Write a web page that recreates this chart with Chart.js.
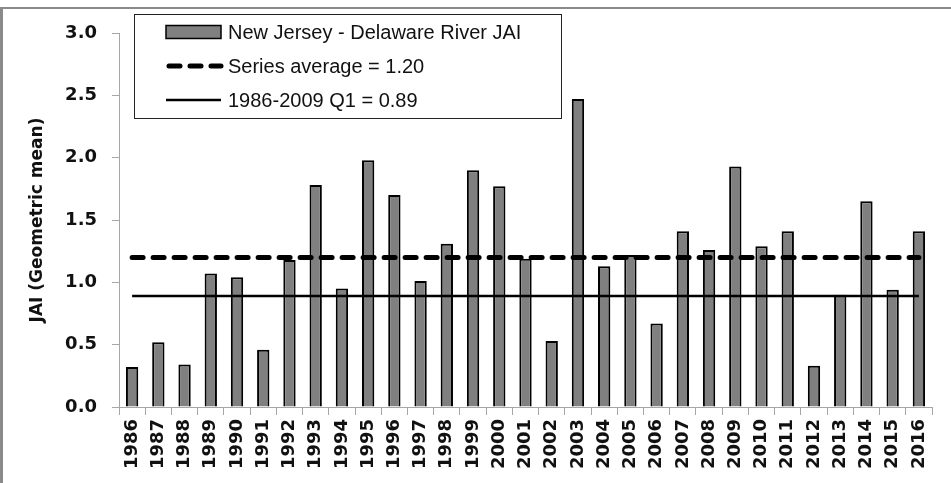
<!DOCTYPE html>
<html>
<head>
<meta charset="utf-8">
<script src="https://cdn.jsdelivr.net/npm/chart.js@4"></script>
<style>
  html, body { margin: 0; padding: 0; background: #fff; }
  #wrap { position: relative; width: 951px; height: 483px; }
  #frame {
    position: absolute; left: 0; top: 7px; width: 948px; height: 476px;
    border-top: 2px solid #8a8a8a; border-left: 3px solid #8a8a8a;
    pointer-events: none;
  }
</style>
</head>
<body>
<div id="wrap">
  <canvas id="jai"></canvas>
  <div id="frame"></div>
</div>
<script>
const years = ['1986', '1987', '1988', '1989', '1990', '1991', '1992', '1993', '1994', '1995',
  '1996', '1997', '1998', '1999', '2000', '2001', '2002', '2003', '2004', '2005', '2006',
  '2007', '2008', '2009', '2010', '2011', '2012', '2013', '2014', '2015', '2016'];
const jaiValues = [0.32, 0.52, 0.34, 1.07, 1.04, 0.46, 1.18, 1.78, 0.95, 1.98,
  1.70, 1.01, 1.31, 1.90, 1.77, 1.19, 0.53, 2.47, 1.13, 1.22, 0.67,
  1.41, 1.26, 1.93, 1.29, 1.41, 0.33, 0.90, 1.65, 0.94, 1.41];
const seriesAverage = 1.20;
const q1Value = 0.89;
const yMin = 0, yMax = 3.0, yStep = 0.5;

const labelFont = {family: "'DejaVu Sans', sans-serif", size: 18, weight: 'bold'};
const titleFont = {family: "'DejaVu Sans', sans-serif", size: 17, weight: 'bold'};
const axisGrey = '#a6a6a6';

// boxed legend in the upper left of the plot, like the original
const legendBox = {
  id: 'legendBox',
  afterDatasetsDraw(chart) {
    const {ctx, chartArea} = chart;
    const x = chartArea.left + 15;
    const y = chartArea.top - 19;
    const w = 427, h = 104;
    ctx.save();
    ctx.fillStyle = '#fff';
    ctx.fillRect(x, y, w, h);
    ctx.strokeStyle = '#222';
    ctx.lineWidth = 1;
    ctx.strokeRect(x + 0.5, y + 0.5, w, h);

    ctx.font = "20px 'Liberation Sans', Arial, sans-serif";
    ctx.textBaseline = 'middle';
    ctx.textAlign = 'left';
    chart.data.datasets.forEach((ds, i) => {
      const cy = y + 18 + i * 34;
      const sx = x + 32, sw = 55;
      if (ds.type === 'line') {
        ctx.strokeStyle = ds.borderColor;
        ctx.lineWidth = ds.borderWidth;
        ctx.lineCap = ds.borderCapStyle || 'butt';
        ctx.setLineDash(ds.borderDash || []);
        ctx.beginPath();
        ctx.moveTo(sx + (ds.borderDash ? 3 : 0), cy);
        ctx.lineTo(sx + sw, cy);
        ctx.stroke();
        ctx.setLineDash([]);
        ctx.lineCap = 'butt';
      } else {
        ctx.fillStyle = ds.backgroundColor;
        ctx.fillRect(sx, cy - 6.5, sw, 13);
        ctx.strokeStyle = ds.borderColor;
        ctx.lineWidth = 1.5;
        ctx.strokeRect(sx, cy - 6.5, sw, 13);
      }
      ctx.fillStyle = '#111';
      ctx.fillText(ds.label, sx + sw + 7, cy + 1);
    });
    ctx.restore();
  }
};

new Chart(document.getElementById('jai'), {
  data: {
    labels: years,
    datasets: [
      {
        type: 'bar',
        label: 'New Jersey - Delaware River JAI',
        data: jaiValues,
        backgroundColor: '#808080',
        borderColor: '#000',
        borderWidth: 2,
        barPercentage: 0.47,
        categoryPercentage: 1.0,
        order: 2
      },
      {
        type: 'line',
        label: 'Series average = 1.20',
        data: years.map(() => seriesAverage),
        borderColor: '#000',
        borderWidth: 5,
        borderDash: [11, 10],
        borderCapStyle: 'round',
        pointRadius: 0,
        fill: false,
        order: 0
      },
      {
        type: 'line',
        label: '1986-2009 Q1 = 0.89',
        data: years.map(() => q1Value),
        borderColor: '#000',
        borderWidth: 2.5,
        pointRadius: 0,
        fill: false,
        order: 1
      }
    ]
  },
  options: {
    responsive: true,
    maintainAspectRatio: false,
    animation: false,
    layout: {padding: {left: 27, right: 19, top: 33, bottom: 0}},
    plugins: {
      legend: {display: false},
      tooltip: {enabled: false}
    },
    scales: {
      x: {
        offset: true,
        grid: {offset: true, drawOnChartArea: false, drawTicks: true, tickLength: 8, color: axisGrey},
        border: {display: true, color: axisGrey, width: 1},
        ticks: {
          color: '#111',
          font: labelFont,
          minRotation: 90,
          maxRotation: 90,
          autoSkip: false,
          padding: 4
        },
        afterFit(scale) { scale.height = 76; }
      },
      y: {
        min: yMin,
        max: yMax,
        grid: {drawOnChartArea: false, drawTicks: true, tickLength: 7, color: axisGrey},
        border: {display: true, color: axisGrey, width: 1},
        ticks: {
          stepSize: yStep,
          color: '#111',
          font: labelFont,
          padding: 15,
          callback: (v) => v.toFixed(1)
        },
        title: {
          display: true,
          text: 'JAI (Geometric mean)',
          color: '#111',
          font: titleFont,
          padding: {top: 0, bottom: 0}
        },
        afterFit(scale) { scale.width = 92; }
      }
    }
  },
  plugins: [legendBox]
});
</script>
</body>
</html>
